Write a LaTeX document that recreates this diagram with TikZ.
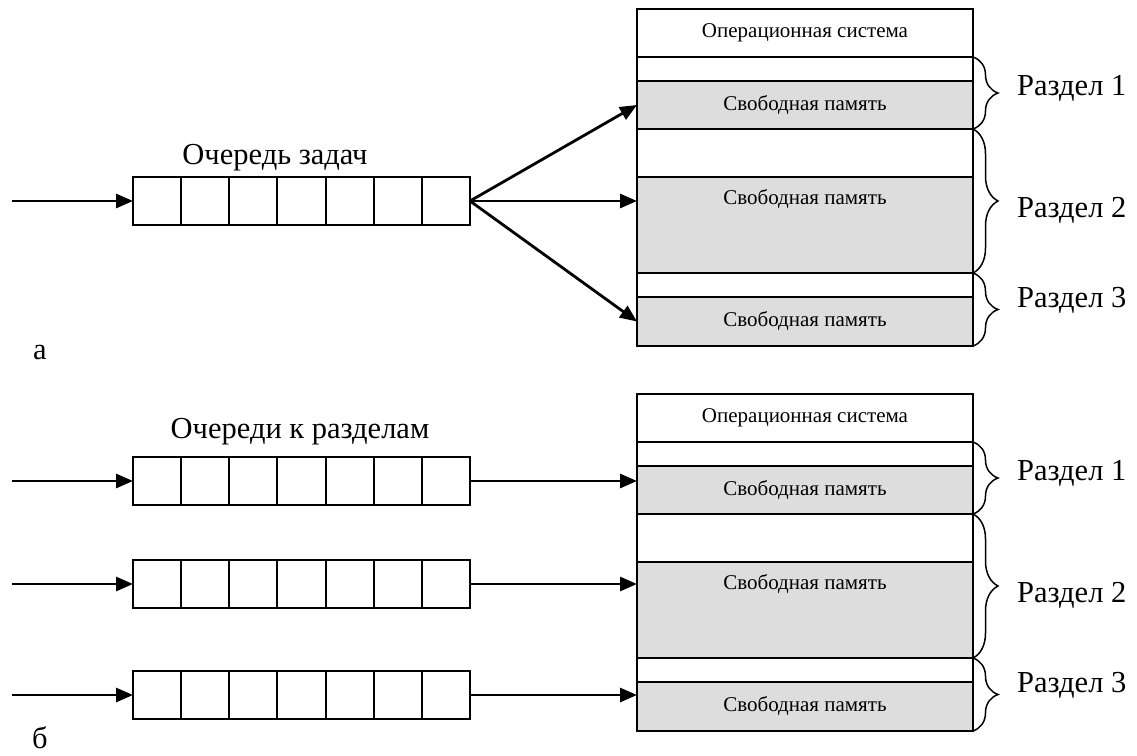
\documentclass[tikz,border=0pt]{standalone}
\usepackage{fontspec}
\setmainfont{Liberation Serif}
\usetikzlibrary{arrows.meta,decorations.pathreplacing,calc}
\definecolor{memgray}{HTML}{DDDDDD}
\begin{document}
\begin{tikzpicture}[x=1pt,y=-1pt,
  memrow/.style={draw,line width=2pt,inner sep=0pt,outer sep=0pt,anchor=north west,minimum width=336pt},
  freerow/.style={memrow,fill=memgray},
  queuebox/.style={draw,line width=2pt,inner sep=0pt,outer sep=0pt,anchor=north west,minimum width=337pt,minimum height=48pt},
  arr/.style={line width=2.8pt,-{Triangle[length=17pt,width=14pt]}},
  brc/.style={line width=1.5pt,decorate,decoration={brace,amplitude=25pt}},
  small/.style={font=\fontsize{21}{24}\selectfont,inner sep=0pt},
  big/.style={font=\fontsize{30.5}{34}\selectfont,inner sep=0pt},
]
\useasboundingbox (0,0) rectangle (1137,755);

% ---------------- panel a ----------------
\node[queuebox] (qa) at (133,177) {};
\foreach \i in {1,...,6} \draw[line width=2pt] ($(qa.north west)+(\i*48.14,0)$) -- ($(qa.south west)+(\i*48.14,0)$);
\node[big] (qalab) at (275,158) {Очередь задач};
\coordinate (ina) at (12,201);
\draw[arr] (ina) -- (qa.west);

\node[memrow,minimum height=48pt] (osa) at (637,9) {};
\node[small] (ostxta) at (osa.center) {Операционная система};
\node[memrow,minimum height=24pt] (w1a) at (637,57) {};
\node[freerow,minimum height=48pt] (g1a) at (637,81) {};
\node[small] (t1a) at (g1a.center) {Свободная память};
\node[memrow,minimum height=48pt] (w2a) at (637,129) {};
\node[freerow,minimum height=96pt] (g2a) at (637,177) {};
\node[small] (t2a) at ($(g2a.north)+(0,22)$) {Свободная память};
\node[memrow,minimum height=24pt] (w3a) at (637,273) {};
\node[freerow,minimum height=49pt] (g3a) at (637,297) {};
\node[small] (t3a) at (g3a.center) {Свободная память};

\coordinate (m2a) at ($(g2a.north west)+(0,24)$);
\draw[arr] (qa.east) -- (g1a.west);
\draw[arr] (qa.east) -- (m2a);
\draw[arr] (qa.east) -- (g3a.west);

\draw[brc] (w1a.north east) -- (g1a.south east);
\draw[brc] (w2a.north east) -- (g2a.south east);
\draw[brc] (w3a.north east) -- (g3a.south east);
\node[big,anchor=west] (r1a) at (1017,88) {Раздел 1};
\node[big,anchor=west] (r2a) at (1017,210) {Раздел 2};
\node[big,anchor=west] (r3a) at (1017,300) {Раздел 3};

\node[big] (pa) at (40,352) {а};

% ---------------- panel b ----------------
\node[big] (qblab) at (300,432) {Очереди к разделам};
\foreach \n/\y in {1/457,2/560,3/671}{
  \node[queuebox] (qb\n) at (133,\y) {};
  \foreach \i in {1,...,6} \draw[line width=2pt] ($(qb\n.north west)+(\i*48.14,0)$) -- ($(qb\n.south west)+(\i*48.14,0)$);
  \coordinate (inb\n) at ($(qb\n.west)+(-121,0)$);
  \draw[arr] (inb\n) -- (qb\n.west);
}

\node[memrow,minimum height=48pt] (osb) at (637,394) {};
\node[small] (ostxtb) at (osb.center) {Операционная система};
\node[memrow,minimum height=24pt] (w1b) at (637,442) {};
\node[freerow,minimum height=48pt] (g1b) at (637,466) {};
\node[small] (t1b) at (g1b.center) {Свободная память};
\node[memrow,minimum height=48pt] (w2b) at (637,514) {};
\node[freerow,minimum height=96pt] (g2b) at (637,562) {};
\node[small] (t2b) at ($(g2b.north)+(0,22)$) {Свободная память};
\node[memrow,minimum height=24pt] (w3b) at (637,658) {};
\node[freerow,minimum height=49pt] (g3b) at (637,682) {};
\node[small] (t3b) at (g3b.center) {Свободная память};

\draw[arr] (qb1.east) -- (qb1.east -| g1b.west);
\draw[arr] (qb2.east) -- (qb2.east -| g2b.west);
\draw[arr] (qb3.east) -- (qb3.east -| g3b.west);

\draw[brc] (w1b.north east) -- (g1b.south east);
\draw[brc] (w2b.north east) -- (g2b.south east);
\draw[brc] (w3b.north east) -- (g3b.south east);
\node[big,anchor=west] (r1b) at (1017,473) {Раздел 1};
\node[big,anchor=west] (r2b) at (1017,595) {Раздел 2};
\node[big,anchor=west] (r3b) at (1017,685) {Раздел 3};

\node[big] (pb) at (40,738) {б};
\end{tikzpicture}
\end{document}
